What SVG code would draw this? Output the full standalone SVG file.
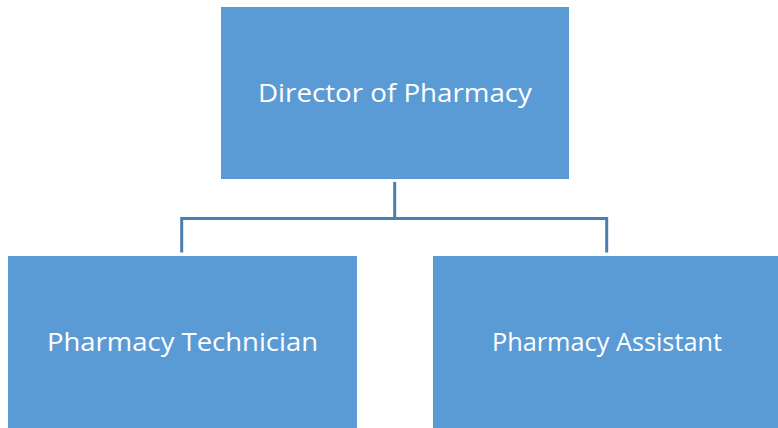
<svg xmlns="http://www.w3.org/2000/svg" width="778" height="428" viewBox="0 0 778 428">
<style>
.box{fill:#5b9bd5;}
.lbl{font-family:"Open Sans","Noto Sans",sans-serif;font-size:26px;fill:#ffffff;text-anchor:middle;}
.conn{fill:none;stroke:#4a7eb0;stroke-width:3;}
</style>
<rect width="778" height="428" fill="#ffffff"/>
<g id="connectors">
<path class="conn" d="M394.7 182 V218.5 M181.7 252.5 V218.5 H606.7 V252.5"/>
</g>
<g id="director">
<rect class="box" x="221" y="7" width="348" height="172"/>
<text class="lbl" x="395" y="102" textLength="274" lengthAdjust="spacingAndGlyphs">Director of Pharmacy</text>
</g>
<g id="technician">
<rect class="box" x="8" y="256" width="349" height="172"/>
<text class="lbl" x="182.5" y="351" textLength="271" lengthAdjust="spacingAndGlyphs">Pharmacy Technician</text>
</g>
<g id="assistant">
<rect class="box" x="433" y="256" width="345" height="172"/>
<text class="lbl" x="607" y="351" textLength="230" lengthAdjust="spacingAndGlyphs">Pharmacy Assistant</text>
</g>
</svg>
